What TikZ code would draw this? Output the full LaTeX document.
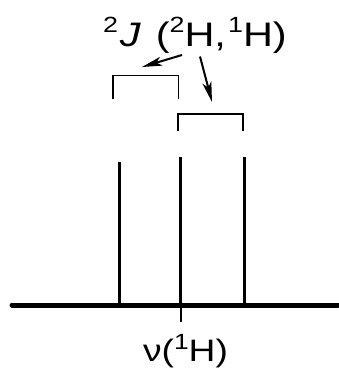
\documentclass[tikz,border=0pt]{standalone}
\usepackage{fontspec}
\setmainfont{Liberation Sans}
\usetikzlibrary{arrows.meta}
\newcommand{\supx}[1]{\raisebox{0.40em}{\fontsize{22}{22}\selectfont #1}}
\begin{document}
\begin{tikzpicture}[x=1pt,y=-1pt,
  peak/.style={line width=3pt},
  axis/.style={line width=5pt, line cap=round},
  bracket/.style={line width=1.8pt},
  pointer/.style={line width=2pt,-{Stealth[length=20pt,width=9pt,inset=5pt]}},
  lbl/.style={inner sep=0pt}]
\useasboundingbox (0,0) rectangle (338,369);
% title
\node[lbl, anchor=base, font=\fontsize{34}{34}\selectfont] (title) at (195,46.5)
  {\scalebox{1.22}[1]{\supx{2}\hspace{0.04em}\textit{J}\hspace{0.36em}(\supx{2}H,\hspace{0.05em}\supx{1}H)}};
\node[lbl, anchor=base, font=\fontsize{31}{31}\selectfont] (nu) at (185.5,361.5)
  {\scalebox{1.2}[1]{ν(\supx{1}H)}};
% axis and peaks
\coordinate (a0) at (12,305);
\coordinate (a1) at (338,305);
\draw[axis] (a0) -- (a1);
\coordinate (p1t) at (119,162); \coordinate (p1b) at (119,305);
\coordinate (p2t) at (180,157); \coordinate (p2b) at (180,305);
\coordinate (p3t) at (244,157); \coordinate (p3b) at (244,305);
\draw[peak] (p1b) -- (p1t);
\draw[peak] (p2b) -- (p2t);
\draw[peak] (p3b) -- (p3t);
% tick
\coordinate (t0) at (181,305); \coordinate (t1) at (181,322);
\draw[line width=1.6pt] (t0) -- (t1);
% brackets
\coordinate (b1a) at (113,99); \coordinate (b1b) at (113,75.5);
\coordinate (b1c) at (178.5,75.5); \coordinate (b1d) at (178.5,99);
\draw[bracket] (b1a) -- (b1b) -- (b1c) -- (b1d);
\coordinate (b2a) at (178,131); \coordinate (b2b) at (178,114);
\coordinate (b2c) at (243,114); \coordinate (b2d) at (243,131);
\draw[bracket] (b2a) -- (b2b) -- (b2c) -- (b2d);
% arrows
\coordinate (s1) at (182,55); \coordinate (e1) at (142,67);
\coordinate (s2) at (200,56.5); \coordinate (e2) at (212,102);
\draw[pointer] (s1) -- (e1);
\draw[pointer] (s2) -- (e2);
\end{tikzpicture}
\end{document}
